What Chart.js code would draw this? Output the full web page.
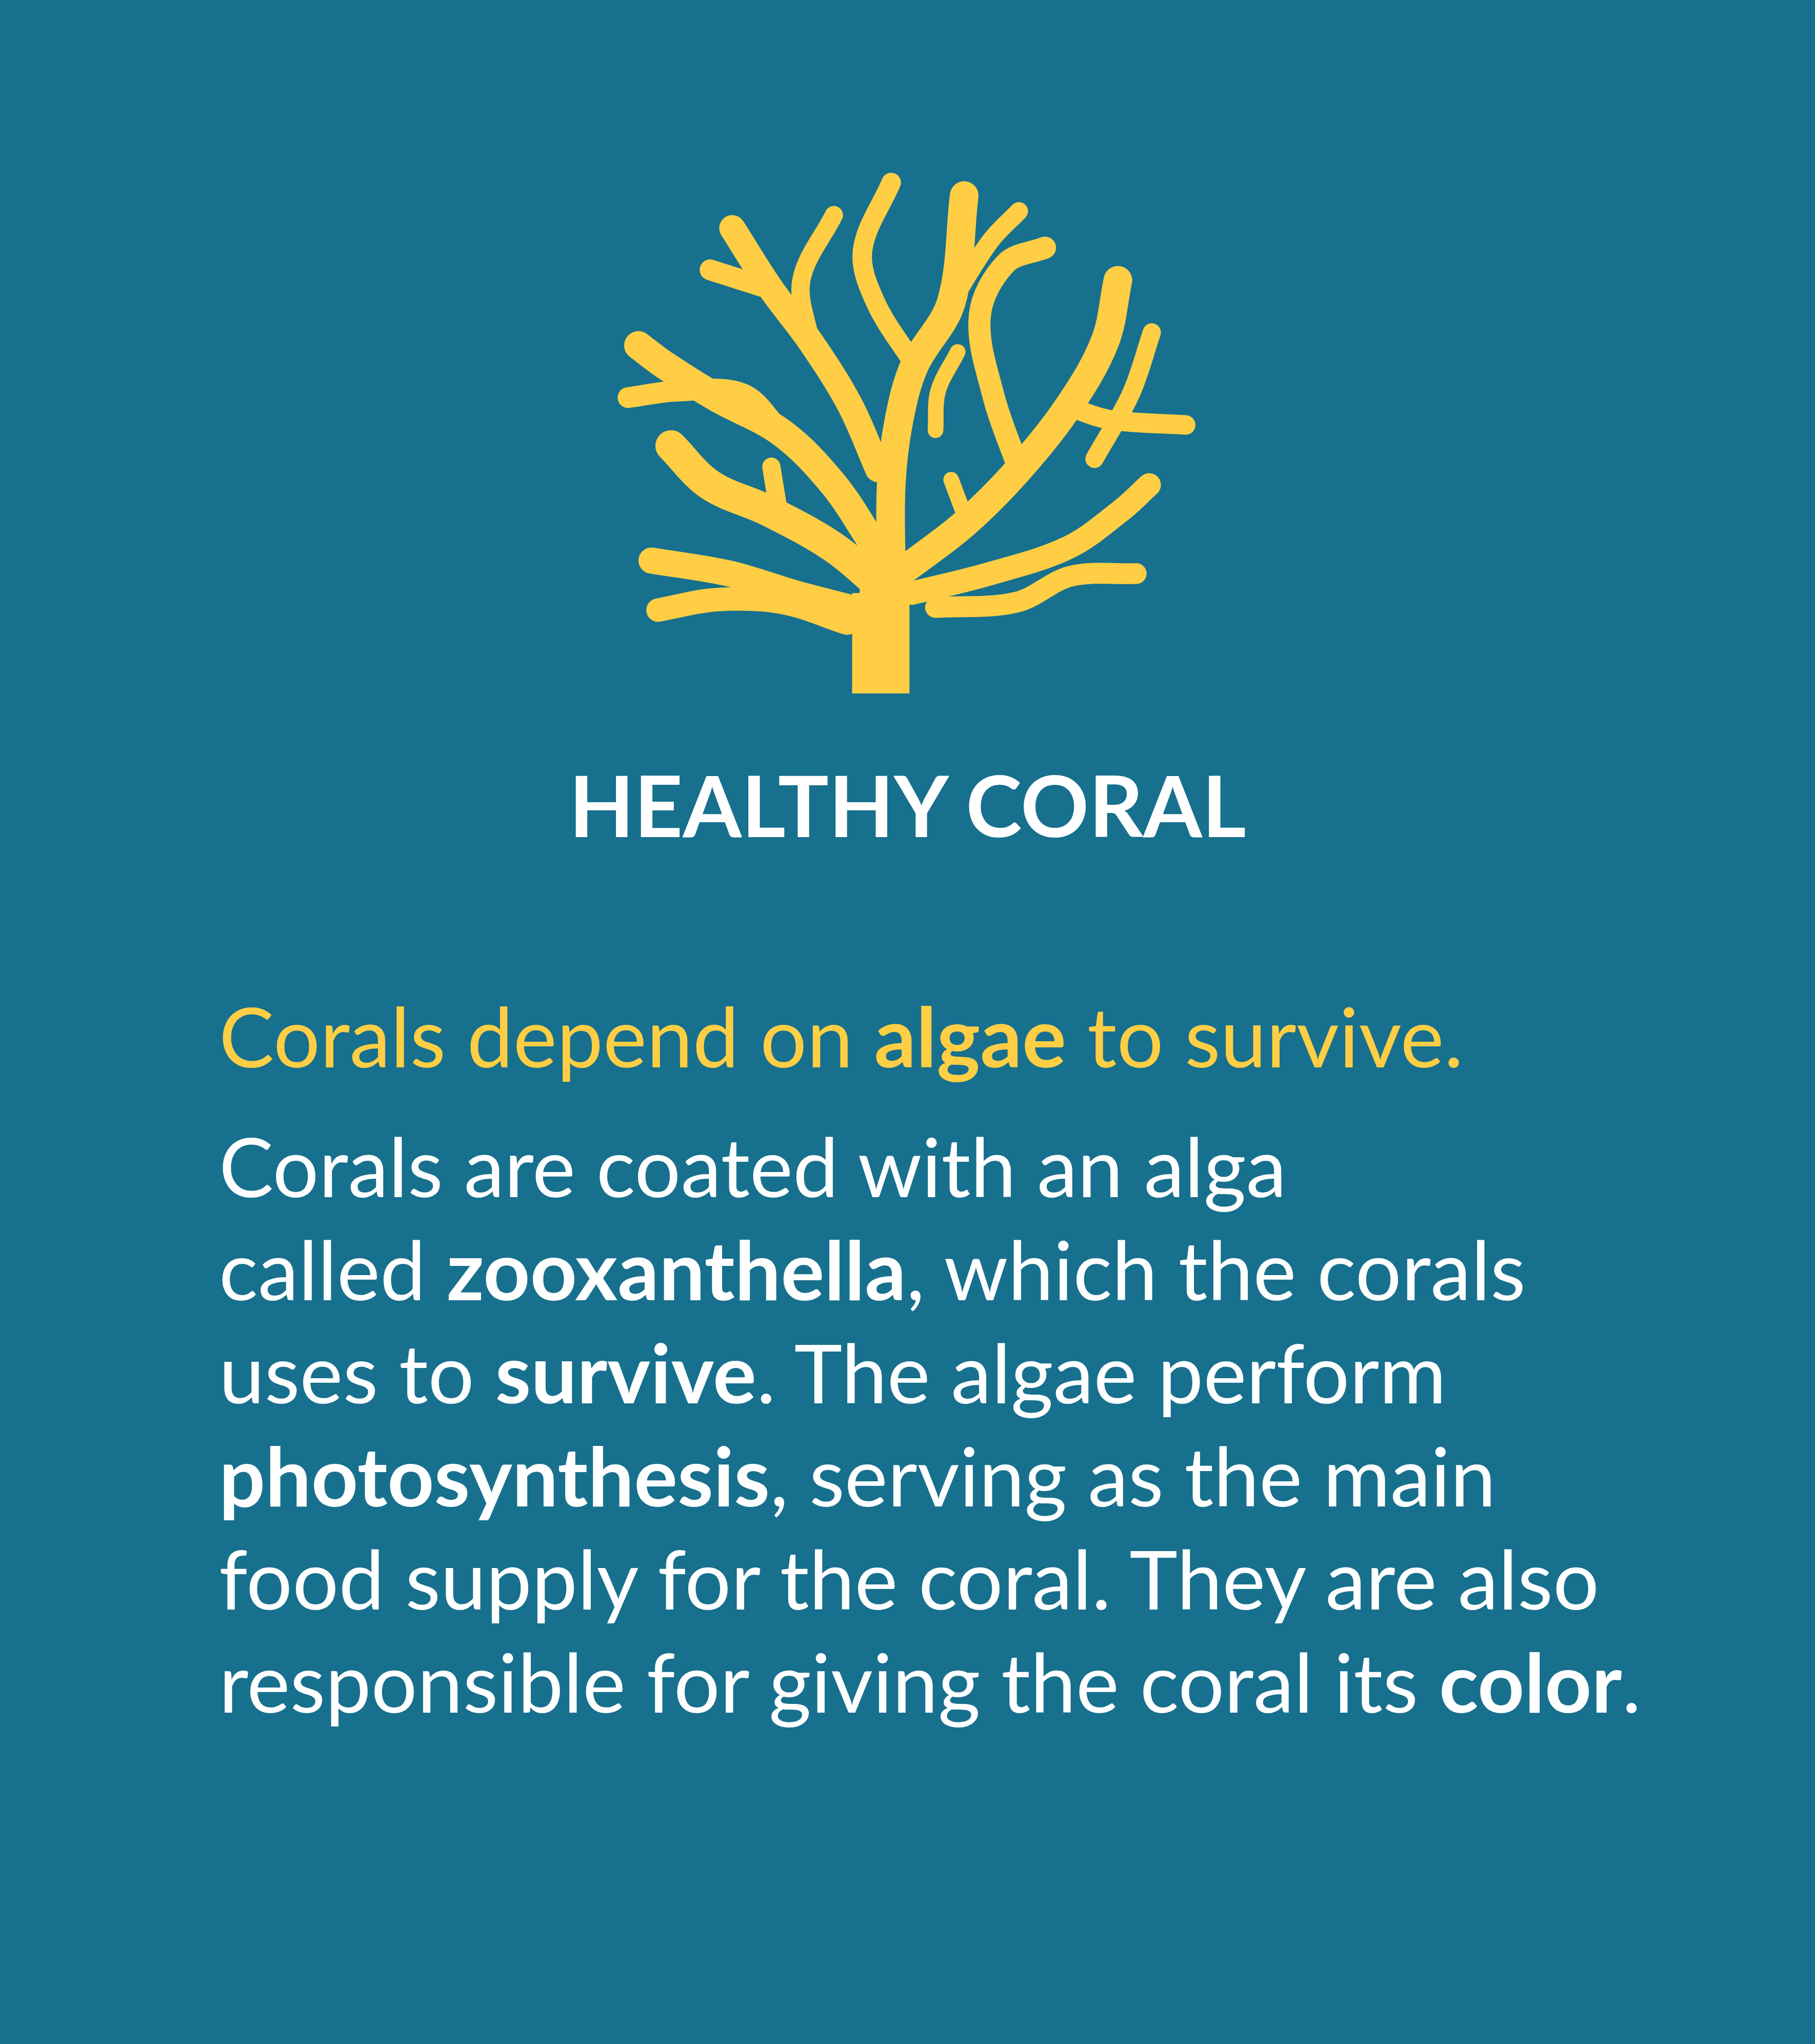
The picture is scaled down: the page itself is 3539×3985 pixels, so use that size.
<!DOCTYPE html>
<html><head><meta charset="utf-8">
<script src="https://cdn.jsdelivr.net/npm/chart.js@4/dist/chart.umd.min.js"></script>
<style>
html,body{margin:0;padding:0;background:#17708d;width:3539px;height:3985px;overflow:hidden;font-family:Lato,"Noto Sans",sans-serif}
#c{position:absolute;left:0;top:0}
.t{position:absolute;color:#fff;white-space:nowrap}
#title{left:0;width:3539px;text-align:center;top:1486px;font-size:165px;font-weight:700;line-height:165px}
#sub{left:427px;top:1918px;font-size:161px;line-height:201px;color:#ffce44}
#body{left:427px;top:2172px;font-size:159px;line-height:201px}
b{font-weight:700}
</style></head><body>
<canvas id="c" width="3539" height="3985"></canvas>
<div class="t" id="title">HEALTHY CORAL</div>
<div class="t" id="sub">Corals depend on <b>algae</b> to survive.</div>
<div class="t" id="body">Corals are coated with an alga<br>called <b>zooxanthella</b>, which the corals<br>uses to <b>survive</b>. The algae perform<br><b>photosynthesis</b>, serving as the main<br>food supply for the coral. They are also<br>responsible for giving the coral its <b>color</b>.</div>
<script>
// coral branches (illustration coordinates in a 1393x1568 reference space)
const trunk = [[676,532],[676,455]];
const trunkTop = [[676,470],[678,430]];
const branchLeftMain = [[676,450],[640,420],[590,392],[545,372],[515,342]];
const branchLeftLow = [[660,468],[610,455],[560,440],[500,430]];
const branchLeftLowest = [[650,478],[600,462],[550,460],[505,468]];
const branchLeftMid = [[672,420],[640,372],[600,332],[550,305],[510,280],[490,265]];
const branchLeftMidTwig = [[600,332],[570,302],[520,300],[482,305]];
const branchLeftUp = [[674,360],[652,310],[622,262],[592,222],[562,175]];
const twigA = [[592,222],[545,207]];
const twigB = [[622,262],[615,215],[640,165]];
const branchCenter = [[684,440],[684,372],[690,322],[702,280],[730,232],[740,150]];
const twigC = [[702,280],[672,232],[662,192],[684,140]];
const twigD = [[730,232],[760,185],[782,162]];
const branchRightMain = [[690,440],[740,402],[782,360],[820,312],[848,262],[858,215]];
const twigE = [[820,312],[852,322],[910,326]];
const branchRightUp = [[782,360],[762,302],[752,242],[772,202],[802,190]];
const branchRightLow = [[700,455],[760,440],[820,420],[860,392],[882,372]];
const branchRightLowest = [[718,466],[780,462],[822,442],[872,440]];
const twigF = [[840,352],[868,302],[884,255]];
const stubs1 = [[598,395],[592,358]];
const stubs2 = [[742,400],[730,368]];
const stubs3 = [[735,270],[720,300],[718,330]];
const branches = [trunk,trunkTop,branchLeftMain,branchLeftLow,branchLeftLowest,branchLeftMid,branchLeftMidTwig,branchLeftUp,twigA,twigB,branchCenter,twigC,twigD,branchRightMain,twigE,branchRightUp,branchRightLow,branchRightLowest,twigF,stubs1,stubs2,stubs3];
const widths = [44,34,24,20,18,22,16,20,16,14,22,15,14,22,15,17,18,16,14,14,12,12];
const K = 3539/1393;
new Chart(document.getElementById('c'),{
 type:'scatter',
 data:{datasets:branches.map((b,i)=>({data:b.map(p=>({x:p[0],y:p[1]})),showLine:true,borderColor:'#ffce44',borderWidth:widths[i]*K,pointRadius:0,borderCapStyle:i===0?'butt':'round',borderJoinStyle:'round',tension:0.35}))},
 options:{responsive:false,animation:false,devicePixelRatio:1,layout:{padding:0},
  plugins:{legend:{display:false},tooltip:{enabled:false}},
  scales:{x:{display:false,min:0,max:1393},y:{display:false,min:0,max:1568,reverse:true}}}
});
</script></body></html>
